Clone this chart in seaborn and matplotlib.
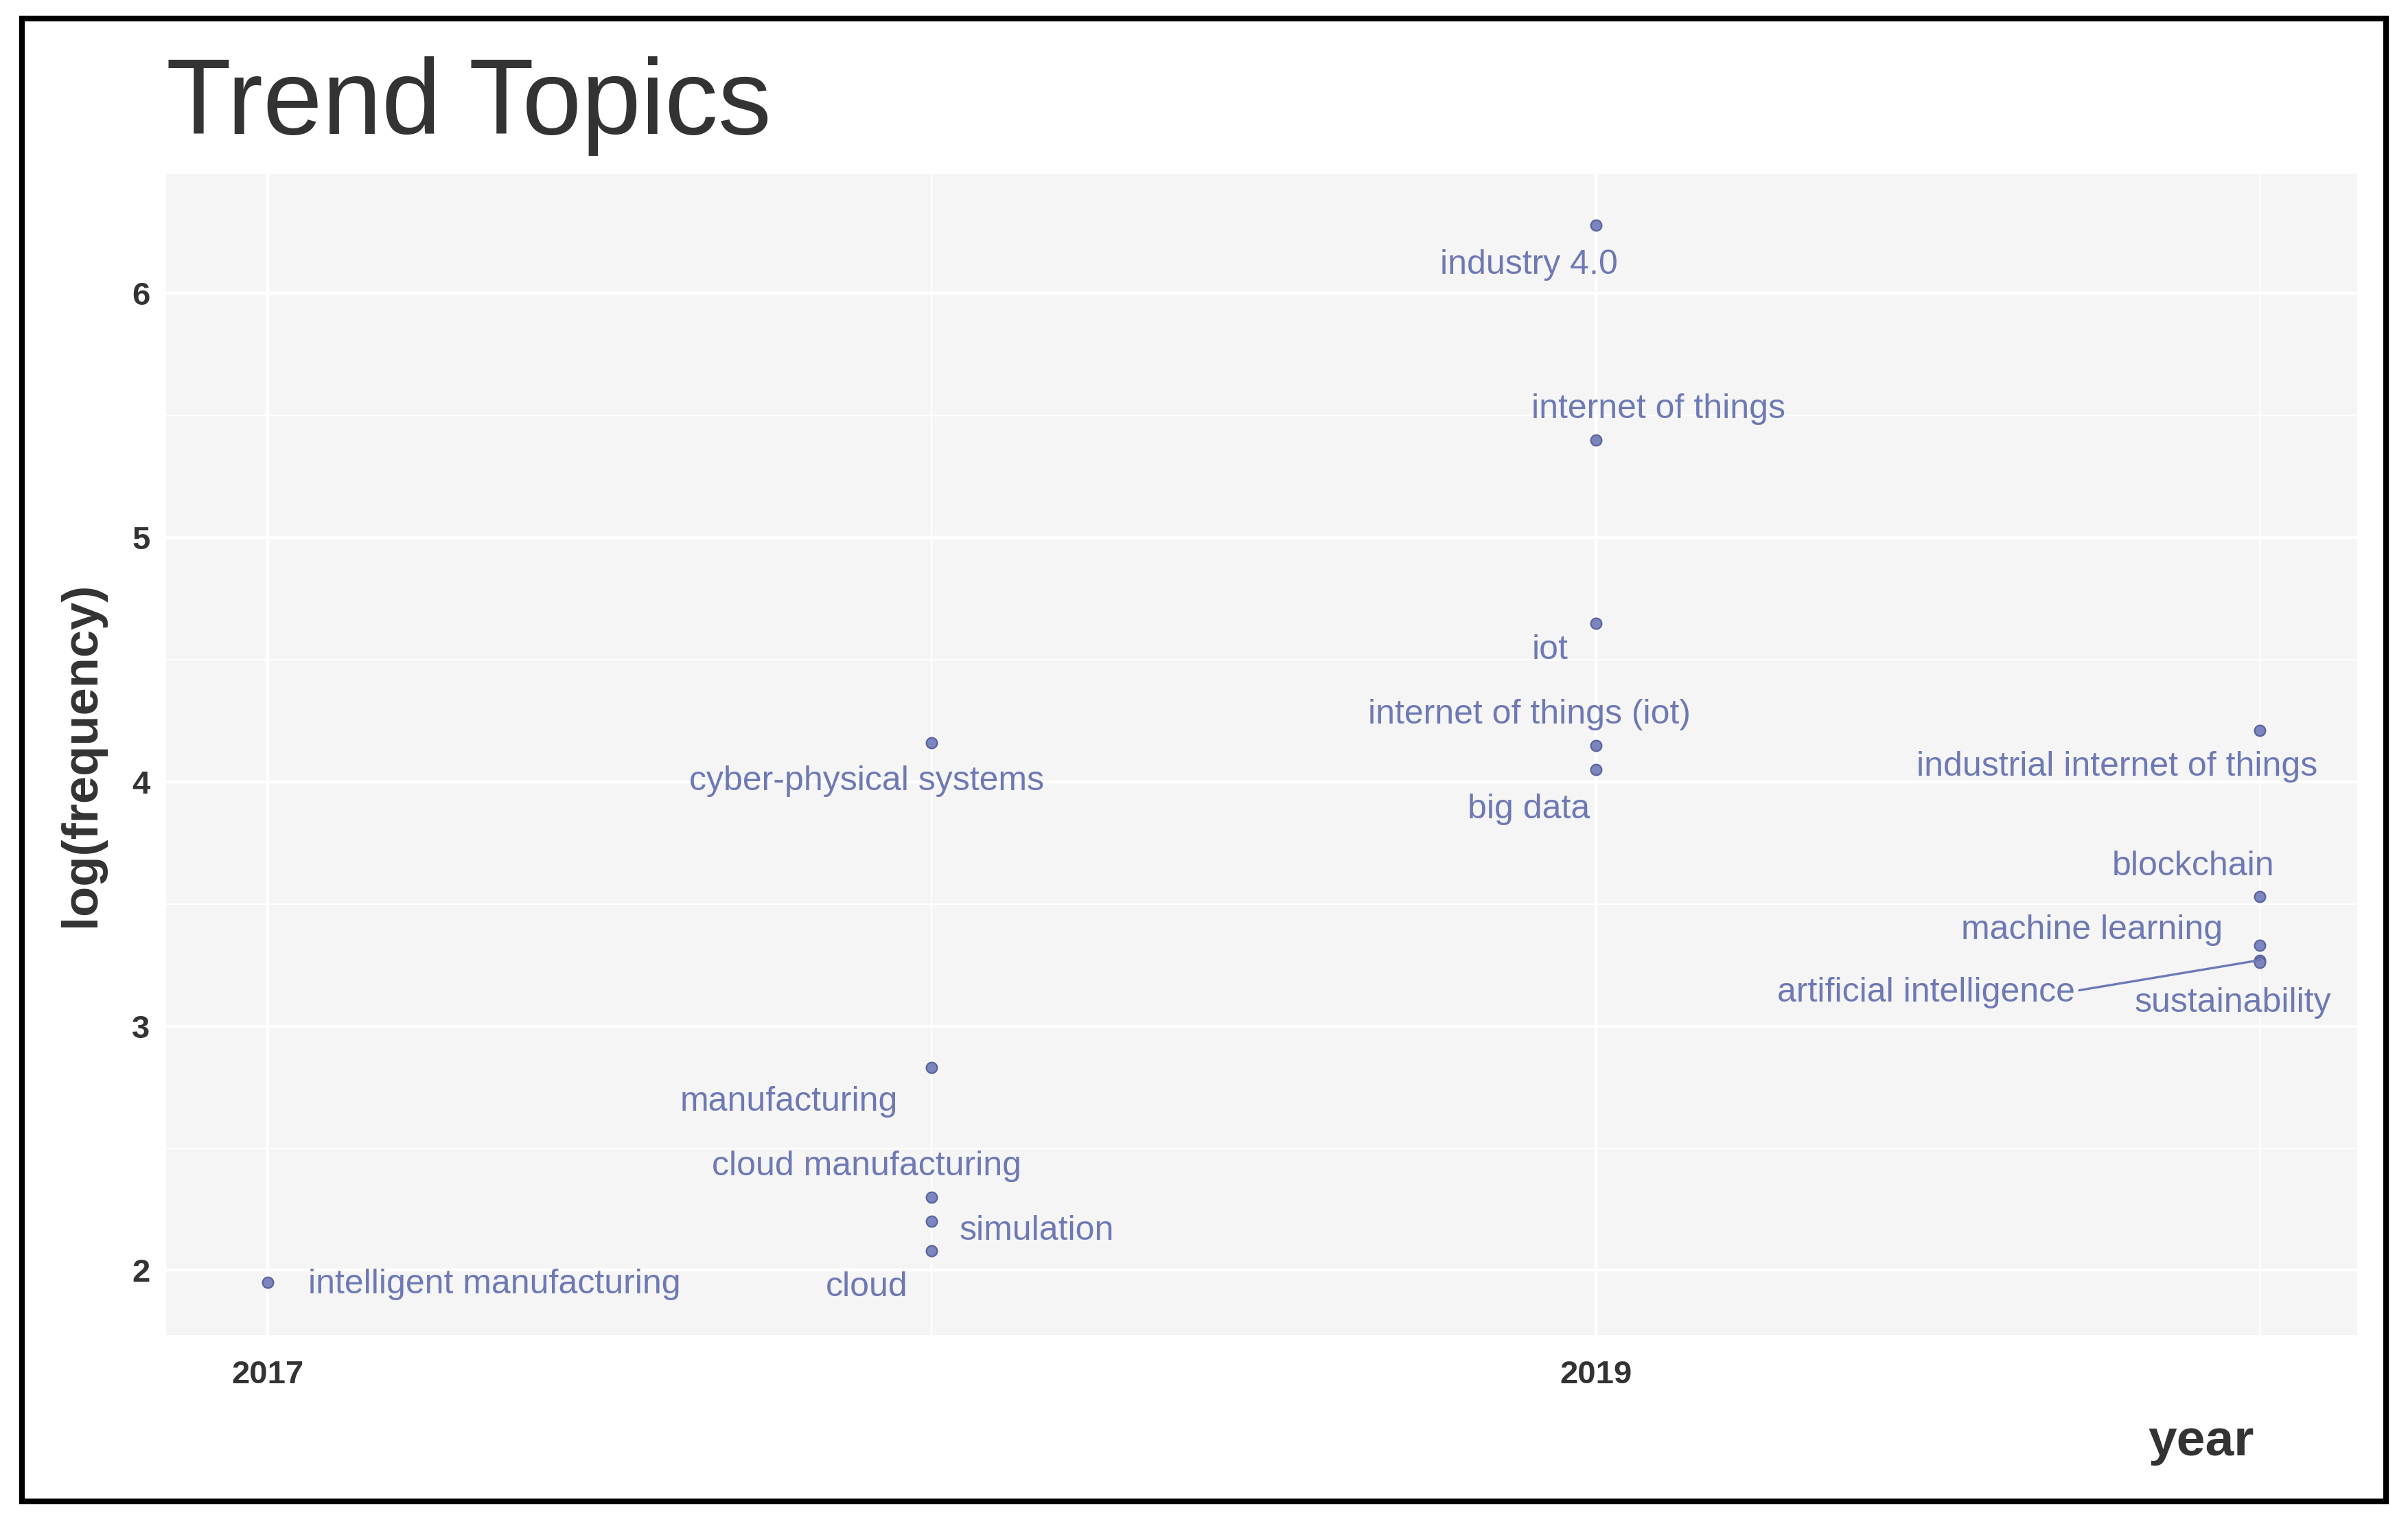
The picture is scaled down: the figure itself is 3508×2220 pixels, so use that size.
import matplotlib
matplotlib.use("Agg")
import matplotlib.pyplot as plt
import pandas as pd
import seaborn as sns
from matplotlib.patches import Rectangle

sns.set_theme(style="white")
plt.rcParams["font.family"] = ["Liberation Sans", "DejaVu Sans"]

# data
terms = ["industry 4.0", "internet of things", "iot", "internet of things (iot)", "big data",
         "cyber-physical systems", "manufacturing", "cloud manufacturing", "simulation", "cloud",
         "intelligent manufacturing", "industrial internet of things", "blockchain",
         "machine learning", "artificial intelligence", "sustainability"]
years = [2019, 2019, 2019, 2019, 2019,
         2018, 2018, 2018, 2018, 2018,
         2017, 2020, 2020, 2020, 2020, 2020]
log_freq = [6.28, 5.40, 4.65, 4.15, 4.05,
            4.16, 2.83, 2.30, 2.20, 2.08,
            1.95, 4.21, 3.53, 3.33, 3.27, 3.26]

# label offsets (points), as placed by the repel layout
label_dx = [-35, 33, -24, -35, -35, -34, -75, -34, 55, -34, 119, -75, -35, -88, -175, -14]
label_dy = [-21, 16, -14, 16, -21, -20, -18, 16, -5, -19, -1, -19, 16, 8, -17, -21]

df = pd.DataFrame({"term": terms, "year": years, "freq": log_freq})

point_col = "#7B86BE"
text_col = "#6E79B4"

fig = plt.figure(figsize=(17.54, 11.1), dpi=200)
fig.patches.append(Rectangle((0.009, 0.015), 0.982, 0.973, transform=fig.transFigure,
                             fill=False, edgecolor="black", lw=3))
ax = fig.add_axes([0.069, 0.124, 0.91, 0.762])
ax.set_facecolor("#F5F5F5")

sns.scatterplot(data=df, x="year", y="freq", ax=ax, color=point_col, s=32,
                edgecolor="#5A64A0", linewidth=0.8, zorder=3)

for t, x, y, dx, dy in zip(terms, years, log_freq, label_dx, label_dy):
    if t == "artificial intelligence":
        ax.annotate(t, (x, y), xytext=(dx, dy), textcoords="offset points",
                    ha="center", va="center", fontsize=18, color=text_col,
                    arrowprops=dict(arrowstyle="-", color=text_col, lw=1.2,
                                    shrinkA=0, shrinkB=0,
                                    relpos=(1.0, 0.55)))
    else:
        ax.annotate(t, (x, y), xytext=(dx, dy), textcoords="offset points",
                    ha="center", va="center", fontsize=18, color=text_col)

ax.set_xlim(2016.847, 2020.147)
ax.set_ylim(1.735, 6.49)
ax.set_xticks([2017, 2019])
ax.set_xticks([2018, 2020], minor=True)
ax.set_yticks([2, 3, 4, 5, 6])
ax.set_yticks([2.5, 3.5, 4.5, 5.5], minor=True)
ax.grid(True, which="major", color="white", lw=1.6)
ax.grid(True, which="minor", color="white", lw=0.8)
ax.set_axisbelow(True)
for s in ax.spines.values():
    s.set_visible(False)
ax.tick_params(which="major", length=5, color="#333333", labelsize=17, labelcolor="#333333")
ax.tick_params(axis="x", which="major", pad=8)
ax.tick_params(which="minor", length=0)
for lbl in ax.get_xticklabels() + ax.get_yticklabels():
    lbl.set_fontweight("bold")
ax.set_xlabel("")
ax.set_ylabel("log(frequency)", fontsize=26, fontweight="bold", color="#333333", labelpad=14)
fig.text(0.936, 0.045, "year", fontsize=27, fontweight="bold", color="#333333", ha="right")
fig.text(0.069, 0.912, "Trend Topics", fontsize=56, color="#333333")

fig.savefig("out.png", dpi=200)
